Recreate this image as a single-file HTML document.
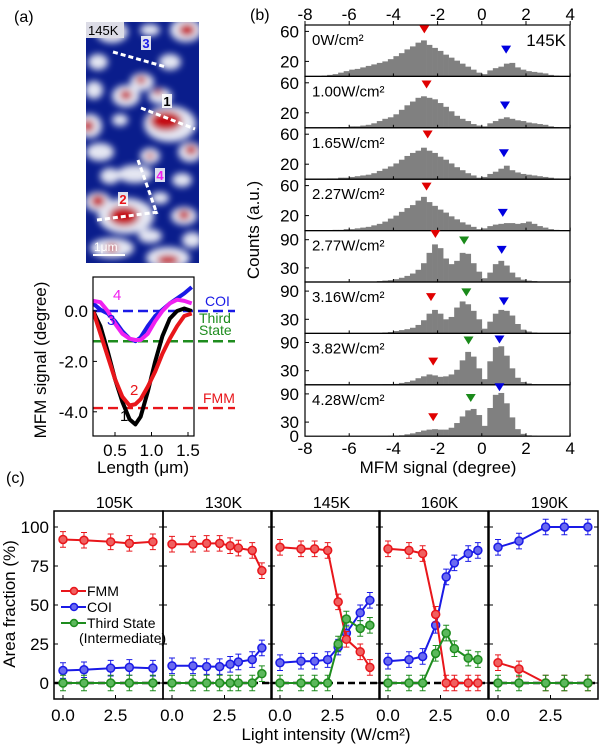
<!DOCTYPE html>
<html><head><meta charset="utf-8"><style>
html,body{margin:0;padding:0;background:#fff;}
svg{display:block;font-family:"Liberation Sans",Arial,sans-serif;}
</style></head><body>
<svg id="fig" width="600" height="745" viewBox="0 0 600 745">
<defs>
<filter id="blur" x="-20%" y="-20%" width="140%" height="140%"><feGaussianBlur stdDeviation="3.5"/></filter>
<clipPath id="mapclip"><rect x="86" y="22" width="113" height="241"/></clipPath>
<clipPath id="aclip"><rect x="93" y="277" width="101" height="159"/></clipPath>
</defs>
<text x="14" y="22" font-size="16">(a)</text>
<text x="250" y="20" font-size="16">(b)</text>
<text x="6" y="483" font-size="16">(c)</text>
<g id="map" clip-path="url(#mapclip)"></g>
<g id="pa"></g>
<g id="pb"></g>
<g id="pc"></g>
</svg>
<script>
// ---------- Panel (a) data ----------
const aLength = [0.2,0.3,0.4,0.5,0.6,0.7,0.78,0.85,0.95,1.05,1.15,1.25,1.35,1.45,1.55];
const aCurve1 = [0.0,-0.6,-1.6,-2.7,-3.6,-4.3,-4.5,-4.2,-3.2,-2.0,-1.0,-0.3,0.0,0.1,0.0];
const aCurve2 = [0.0,-0.9,-1.8,-2.7,-3.4,-3.75,-3.7,-3.5,-3.0,-2.4,-1.7,-1.1,-0.6,-0.2,-0.1];
const aCurve3 = [0.3,0.05,-0.1,-0.4,-0.8,-1.1,-1.2,-1.05,-0.6,-0.2,0.05,0.3,0.5,0.7,0.95];
const aCurve4 = [0.4,0.35,0.0,-0.5,-0.9,-1.1,-1.15,-1.15,-0.9,-0.4,0.0,0.3,0.45,0.4,0.3];
const aLevels = [0.0,-1.2,-3.85];
const aYTicks = [0.0,-2.0,-4.0];
const aXTicks = [0.5,1.0,1.5];

// ---------- Panel (b) data ----------
const bLabels = ["0W/cm²","1.00W/cm²","1.65W/cm²","2.27W/cm²","2.77W/cm²","3.16W/cm²","3.82W/cm²","4.28W/cm²"];
const bXTicks = [-8,-6,-4,-2,0,2,4];
const bH1 = [0,0,0,1, 2,3,5,7, 9,10,12,14, 16,18,20,23, 27,31,36,40, 45,48,42,38, 34,29,25,21, 17,13,9,5, 3,8,11,13, 17,18,12,9, 7,6,5,4, 2,1,0,0];
const bH2 = [0,0,0,0, 0,0,1,1, 2,2,3,4, 6,9,12,14, 18,24,30,35, 40,42,40,38, 33,28,22,16, 12,9,5,3, 2,6,9,12, 14,12,10,9, 7,6,5,4, 2,1,0,0];
const bH3 = [0,0,0,0, 1,1,2,2, 3,4,5,6, 8,11,14,17, 21,26,31,35, 38,42,38,35, 30,26,21,16, 12,8,5,2, 3,7,10,14, 18,12,9,7, 6,5,4,3, 2,1,0,0];
const bH4 = [0,0,0,0, 0,1,1,2, 2,3,4,5, 7,9,12,16, 20,25,30,34, 40,45,38,33, 28,24,19,15, 11,8,5,2, 3,6,8,9, 10,10,9,10, 12,9,6,4, 2,1,0,0];
const bH5 = [0,0,0,0, 0,0,0,0, 0,0,0,1, 1,2,3,4, 6,9,13,18, 26,40,62,80, 72,50,38,45, 62,60,40,22, 8,20,38,45, 35,20,10,5, 3,2,1,0, 0,0,0,0];
const bH6 = [0,0,0,0, 0,0,0,0, 0,0,0,0, 1,1,2,3, 5,7,9,12, 18,28,42,50, 42,30,35,55, 68,62,48,30, 10,25,42,50, 48,38,20,8, 4,2,1,0, 0,0,0,0];
const bH7 = [0,0,0,0, 0,0,0,0, 0,0,0,0, 0,0,1,1, 2,4,6,9, 14,18,22,20, 17,18,22,32, 52,70,60,35, 12,50,80,82, 62,35,15,6, 3,1,0,0, 0,0,0,0];
const bH8 = [0,0,0,0, 0,0,0,0, 0,0,0,0, 0,0,0,1, 1,2,4,6, 9,12,14,15, 14,14,18,28, 42,55,58,45, 22,60,88,92, 70,40,15,5, 2,1,0,0, 0,0,0,0];
const bRedX = [-2.6,-2.5,-2.45,-2.5,-2.1,-2.3,-2.2,-2.2];
const bRedY = [60,55,57,56,98,73,45,36];
const bGreenX = [null,null,null,null,-0.8,-0.7,-0.6,-0.5];
const bGreenY = [null,null,null,null,84,83,90,77];
const bBlueX = [1.1,1.05,1.0,0.95,0.9,1.0,0.8,0.8];
const bBlueY = [33,27,32,21,64,64,92,100];

// ---------- Panel (c) data ----------
const cTemps = ["105K","130K","145K","160K","190K"];
const cYTicks = [0,25,50,75,100];
const cXTicks = [0.0,2.5];
const cX105 = [0,1,2.27,3.16,4.28];
const cFMM105 = [92,91.5,90.5,89.5,90.5];
const cCOI105 = [8,8.5,9.5,10,9.5];
const cTS105 = [0,0,0,0,0];
const cX130 = [0,1,1.65,2.27,2.77,3.16,3.82,4.28];
const cFMM130 = [89,89,89.5,89.5,88,86.5,85,72];
const cCOI130 = [11,11,10.5,10.5,12,13.5,15,22.5];
const cTS130 = [0,0,0,0,0,0,0,6];
const cX145 = [0,1,1.65,2.27,2.77,3.16,3.82,4.28];
const cFMM145 = [87,86,86,85,52,28,20,10];
const cCOI145 = [13,14,14,15,23,32,45,53];
const cTS145 = [0,0,0,0,25,41,35,37];
const cX160 = [0,1,1.65,2.27,2.77,3.16,3.82,4.28];
const cFMM160 = [86,85,83,44,0,0,0,0];
const cCOI160 = [14,15,17,37,68,77,83,85];
const cTS160 = [0,0,0,19,32,22,16,15];
const cX190 = [0,1,2.27,3.16,4.28];
const cFMM190 = [13,9,0,0,0];
const cCOI190 = [87,91,100,100,100];
const cTS190 = [0,0,0,0,0];
const cErr = 5;

const NS='http://www.w3.org/2000/svg';
function mk(tag,attrs,parent){const e=document.createElementNS(NS,tag);for(const k in attrs)e.setAttribute(k,attrs[k]);parent.appendChild(e);return e;}
function txt(s,attrs,parent){const e=mk('text',attrs,parent);e.textContent=s;return e;}
const RED='#e8161b',BLUE='#1a1ae6',GREEN='#1e8c1e',MAG='#f020f0';
const TF=17;

// ================= Panel (a) image =================
const map=document.getElementById('map');
let bg=mk('rect',{x:86,y:22,width:113,height:241,fill:'#0a1d8c'},map);


const blobs=mk('g',{filter:'url(#blur)'},map);
const whites=[[112,32,16,11],[186,30,16,12],[150,30,10,6],[98,62,10,8],[142,82,12,9],[126,96,14,11],[160,96,12,8],[170,124,26,18],[90,126,12,12],[120,120,8,6],[190,152,12,10],[150,156,10,8],[100,152,14,9],[135,174,18,9],[182,180,10,7],[98,202,13,10],[126,216,28,18],[184,216,13,9],[112,248,22,10],[168,258,22,11],[150,236,12,7],[192,240,10,8],[94,90,9,9],[170,62,11,8],[110,176,10,8],[160,198,9,6]];
const reds=[[114,30,6,4],[187,30,8,6],[126,95,6,5],[158,92,5,3],[166,121,16,10],[88,126,6,6],[191,150,6,5],[150,156,4,3],[98,201,7,6],[124,216,15,10],[184,215,6,5],[168,260,11,5],[141,80,5,4],[112,248,6,4]];
for(const w of whites){const e=mk('ellipse',{cx:w[0],cy:w[1],rx:w[2],ry:w[3],fill:'#e4e6f2'},blobs);

}
for(const r of reds){const e=mk('ellipse',{cx:r[0],cy:r[1],rx:r[2],ry:r[3],fill:'#c41018'},blobs);

}
const cuts=[[113,52,166,67,'3',146,48,BLUE],[141,108,195,129,'1',167,106,'#000'],[138,160,157,214,'4',160,180,MAG],[97,220,158,212,'2',123,204,RED]];
for(const c of cuts){const l=mk('line',{x1:c[0],y1:c[1],x2:c[2],y2:c[3],stroke:'#fff','stroke-width':3,'stroke-dasharray':'5,3'},map);


const bx=mk('rect',{x:c[5]-5,y:c[6]-12,width:10,height:14,fill:'#fff',opacity:0.85},map);


const t=txt(c[4],{x:c[5],y:c[6],'font-size':13,'font-weight':'bold','text-anchor':'middle',fill:c[7]},map);

}
const tb=mk('rect',{x:86,y:22,width:38,height:16,fill:'#dcdce6'},map);


const tt=txt('145K',{x:88,y:35,'font-size':13},map);


const sb=mk('line',{x1:93,y1:255,x2:125,y2:255,stroke:'#fff','stroke-width':2},map);


const sbt=txt('1μm',{x:94,y:251,'font-size':12,fill:'#fff'},map);



// ================= Panel (a) line plot =================
const pa=document.getElementById('pa');
const ax=v=>78.5+v*73, ay=v=>311-v*25.2;
const aLeft=93,aRight=194,aTop=277,aBot=436;
const levelColors=[BLUE,GREEN,RED];
for(let i=0;i<aLevels.length;i++){const l=mk('line',{x1:aLeft,x2:235,y1:ay(aLevels[i]),y2:ay(aLevels[i]),stroke:levelColors[i],'stroke-width':2.4,'stroke-dasharray':'10,5'},pa);

}
const cg=mk('g',{'clip-path':'url(#aclip)'},pa);
const curves=[[aCurve1,'#000'],[aCurve3,BLUE],[aCurve4,MAG],[aCurve2,RED]];
for(const c of curves){let d='';c[0].forEach((v,i)=>{d+=(i?'L':'M')+ax(aLength[i]).toFixed(1)+','+ay(v).toFixed(1);});
const p=mk('path',{d:d,fill:'none',stroke:c[1],'stroke-width':4,'stroke-linejoin':'round'},cg);

}
const abox=mk('rect',{x:aLeft,y:aTop,width:aRight-aLeft,height:aBot-aTop,fill:'none',stroke:'#000','stroke-width':1.2},pa);


for(const v of aYTicks){const t=txt(v.toFixed(1),{x:88,y:ay(v)+6,'font-size':TF,'text-anchor':'end'},pa);


const k=mk('line',{x1:aLeft,x2:aLeft+4,y1:ay(v),y2:ay(v),stroke:'#000'},pa);

}
for(const v of aXTicks){const t=txt(v.toFixed(1),{x:ax(v),y:456,'font-size':TF,'text-anchor':'middle'},pa);


const k=mk('line',{x1:ax(v),x2:ax(v),y1:aBot,y2:aBot-4,stroke:'#000'},pa);

}
const anno=[['COI',205,306,BLUE,14],['Third',199,323,GREEN,14],['State',199,335,GREEN,14],['FMM',203,403,RED,14],['4',113,300,MAG,15],['3',107,325,BLUE,15],['2',130,395,RED,15],['1',120,421,'#000',15]];
for(const a of anno){const t=txt(a[0],{x:a[1],y:a[2],'font-size':a[4],fill:a[3]},pa);

}
const ayt=txt('MFM signal (degree)',{x:0,y:0,'font-size':TF,'text-anchor':'middle',transform:'translate(46,360) rotate(-90)'},pa);


const axt=txt('Length (μm)',{x:143,y:473,'font-size':TF,'text-anchor':'middle'},pa);



// ================= Panel (b) =================
const pb=document.getElementById('pb');
const bx=v=>305+(v+8)*22.1;
const bHist=[bH1,bH2,bH3,bH4,bH5,bH6,bH7,bH8];
const subH=51.4, bTop0=25;
for(let i=0;i<8;i++){
 const top=bTop0+i*subH, bot=top+subH, sc=i<4?0.75:0.47;
 const by=v=>bot-v*sc;
 const hist=bHist[i];
 for(let j=0;j<hist.length;j++){if(!hist[j])continue;const x0=-8+j*0.25;
  const r=mk('rect',{x:bx(x0).toFixed(2),y:by(hist[j]).toFixed(2),width:(0.25*22.1+0.3).toFixed(2),height:(hist[j]*sc).toFixed(2),fill:'#808080'},pb);
  
  }
 const fr=mk('rect',{x:305,y:top,width:265,height:subH,fill:'none',stroke:'#000','stroke-width':1.2},pb);
 
 
 const ticks=i<4?[60,20]:[90,30];
 for(const v of ticks){const t=txt(String(v),{x:299,y:by(v)+6,'font-size':TF,'text-anchor':'end'},pb);
  
  
  const k=mk('line',{x1:305,x2:309,y1:by(v),y2:by(v),stroke:'#000'},pb);
  
  }
 for(const v of bXTicks){const k=mk('line',{x1:bx(v),x2:bx(v),y1:bot,y2:bot-3,stroke:'#000'},pb);
  
  }
 const lb=txt(bLabels[i],{x:312,y:top+20,'font-size':15},pb);
 
 
 const tri=(x,v,col)=>{const cx=bx(x),cy=by(v);return mk('path',{d:`M${cx-5},${cy-6}L${cx+5},${cy-6}L${cx},${cy+2}Z`,fill:col},pb);};
 const tr=tri(bRedX[i],bRedY[i],'#e00000');
 
 
 if(bGreenX[i]!==null){const tg=tri(bGreenX[i],bGreenY[i],'#1a8a1a');
  
  }
 const tbm=tri(bBlueX[i],bBlueY[i],'#0000e0');
 
 
 if(i===7){const z=txt('0',{x:299,y:bot+6,'font-size':TF,'text-anchor':'end'},pb);
  
  }
}
const bBot=bTop0+8*subH;
for(const v of bXTicks){const t=txt(String(v),{x:bx(v),y:bBot+18,'font-size':TF,'text-anchor':'middle'},pb);
 
 
 const t2=txt(String(v),{x:bx(v),y:20,'font-size':TF,'text-anchor':'middle'},pb);
 
 
 const k=mk('line',{x1:bx(v),x2:bx(v),y1:bTop0,y2:bTop0-4,stroke:'#000'},pb);
 
 }
const bt=txt('145K',{x:566,y:46,'font-size':TF,'text-anchor':'end'},pb);


const byt=txt('Counts (a.u.)',{x:0,y:0,'font-size':TF,'text-anchor':'middle',transform:'translate(259,230) rotate(-90)'},pb);


const bxt=txt('MFM signal (degree)',{x:438,y:473,'font-size':TF,'text-anchor':'middle'},pb);



// ================= Panel (c) =================
const pc=document.getElementById('pc');
const cLefts=[54,163,271,379,489], cW=109, cTop=511, cBot=699;
const cy=v=>683-v*1.56;
const cData=[[cX105,cFMM105,cCOI105,cTS105],[cX130,cFMM130,cCOI130,cTS130],[cX145,cFMM145,cCOI145,cTS145],[cX160,cFMM160,cCOI160,cTS160],[cX190,cFMM190,cCOI190,cTS190]];
const sCols=[[RED,'#f06060'],[BLUE,'#6a6af0'],[GREEN,'#5cb85c']];
for(let p=0;p<5;p++){
 const L=cLefts[p]; const cx=v=>L+9+v*21;
 const fr=mk('rect',{x:L,y:cTop,width:cW,height:cBot-cTop,fill:'none',stroke:'#000','stroke-width':1.5},pc);
 
 
 const ttl=txt(cTemps[p],{x:L+cW/2+6,y:508,'font-size':16,'text-anchor':'middle'},pc);
 
 
 for(const v of cYTicks){const k=mk('line',{x1:L,x2:L+4,y1:cy(v),y2:cy(v),stroke:'#000'},pc);
  
  
  const k2=mk('line',{x1:L+cW,x2:L+cW-4,y1:cy(v),y2:cy(v),stroke:'#000'},pc);
  
  }
 for(const v of cXTicks){const t=txt(v.toFixed(1),{x:cx(v),y:721,'font-size':TF,'text-anchor':'middle'},pc);
  
  
  const k=mk('line',{x1:cx(v),x2:cx(v),y1:cBot,y2:cBot-4,stroke:'#000'},pc);
  
  }
 const zl=mk('line',{x1:L,x2:L+cW,y1:cy(0),y2:cy(0),stroke:'#000','stroke-width':2.5,'stroke-dasharray':'7,4'},pc);
 
 
 const X=cData[p][0];
 for(const s of [2,1,3]){
  const vals=cData[p][s], col=sCols[s-1];
  let d='';vals.forEach((v,i)=>{d+=(i?'L':'M')+cx(X[i]).toFixed(1)+','+cy(v).toFixed(1);});
  const ln=mk('path',{d:d,fill:'none',stroke:col[0],'stroke-width':2},pc);
  
  
  vals.forEach((v,i)=>{const x=cx(X[i]);
   const eb=mk('path',{d:`M${x},${cy(v-cErr)}L${x},${cy(v+cErr)}M${x-3},${cy(v-cErr)}L${x+3},${cy(v-cErr)}M${x-3},${cy(v+cErr)}L${x+3},${cy(v+cErr)}`,stroke:col[0],'stroke-width':1,fill:'none'},pc);
   
   
   const m=mk('circle',{cx:x,cy:cy(v),r:4,fill:col[1],stroke:col[0],'stroke-width':1.5},pc);
   
   });
 }
}
for(const v of cYTicks){const t=txt(String(v),{x:49,y:cy(v)+6,'font-size':TF,'text-anchor':'end'},pc);
 
 }
const cyt=txt('Area fraction (%)',{x:0,y:0,'font-size':TF,'text-anchor':'middle',transform:'translate(15,604) rotate(-90)'},pc);


const cxt=txt('Light intensity (W/cm²)',{x:326,y:740,'font-size':TF,'text-anchor':'middle'},pc);


const leg=[['FMM',591,RED,'#f06060'],['COI',607,BLUE,'#6a6af0'],['Third State',623,GREEN,'#5cb85c']];
for(const g of leg){const l=mk('line',{x1:61,x2:86,y1:g[1],y2:g[1],stroke:g[2],'stroke-width':2},pc);
 
 
 const c=mk('circle',{cx:74,cy:g[1],r:3.5,fill:g[3],stroke:g[2],'stroke-width':1.5},pc);
 
 
 const t=txt(g[0],{x:87,y:g[1]+5,'font-size':14},pc);
 
 }
const lim=txt('(Intermediate)',{x:79,y:643,'font-size':14},pc);


</script>
</body></html>
